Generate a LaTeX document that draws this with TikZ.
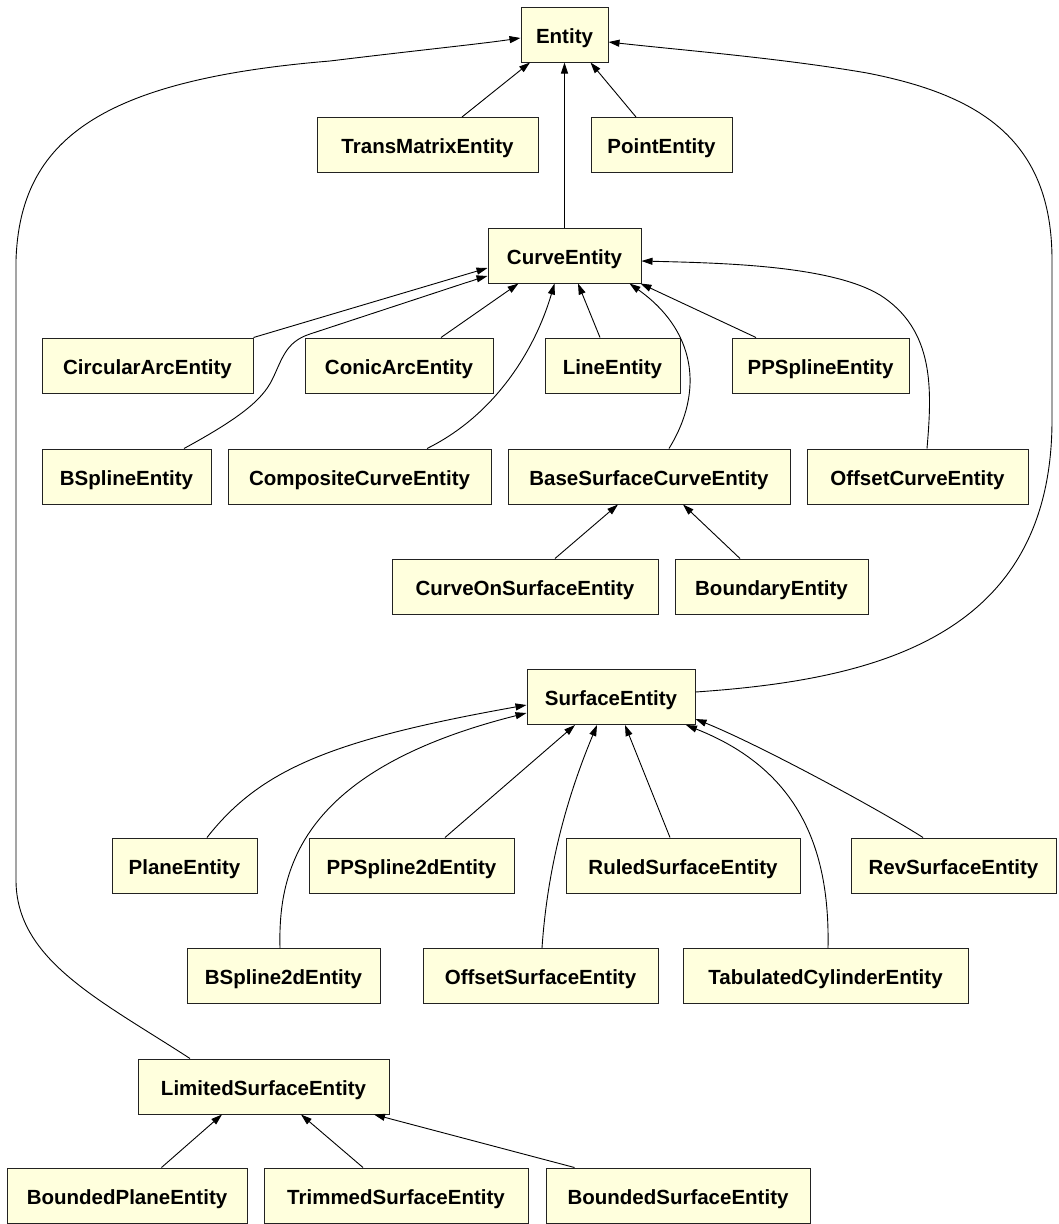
\documentclass[tikz,border=0pt]{standalone}
\usepackage{fontspec}
\setmainfont{Liberation Sans}
\usepackage{tikz}
\usetikzlibrary{arrows.meta, calc}
\usepackage{xcolor}
\definecolor{clsfill}{HTML}{FFFFDD}
\definecolor{clsline}{HTML}{222222}

\begin{document}
\begin{tikzpicture}[
      x=1pt, y=-1pt,
      cls/.style={draw=clsline, fill=clsfill, line width=1pt, minimum height=55pt,
                  inner sep=0pt, text height=17pt, text depth=0pt,
                  font=\fontsize{20.5}{24}\selectfont\bfseries},
      inh/.style={-{Triangle[length=11pt, width=7pt]}, line width=0.9pt},
    ]
    \useasboundingbox (0,0) rectangle (1058,1224);

    % class boxes: name/x/y/width
    \foreach \n/\x/\y/\w in {Entity/564.5/34.5/87,
        TransMatrixEntity/427.5/145/221, PointEntity/661.5/145/141,
        CurveEntity/564.5/255.5/153,
        CircularArcEntity/147.5/365.5/211, ConicArcEntity/399/365.5/188,
        LineEntity/612.5/365.5/135, PPSplineEntity/820.5/365.5/177,
        BSplineEntity/126.5/476.5/169, CompositeCurveEntity/359.5/476.5/263,
        BaseSurfaceCurveEntity/649/476.5/282, OffsetCurveEntity/917.5/476.5/221,
        CurveOnSurfaceEntity/525/586.5/266, BoundaryEntity/771.5/586.5/193,
        SurfaceEntity/611/697/168,
        PlaneEntity/184.5/865.5/145, PPSpline2dEntity/411.5/865.5/205,
        RuledSurfaceEntity/683/865.5/234, RevSurfaceEntity/953.5/865.5/205,
        BSpline2dEntity/283.5/976/193, OffsetSurfaceEntity/540.5/976/235,
        TabulatedCylinderEntity/825.5/976/285,
        LimitedSurfaceEntity/263.5/1086.5/251,
        BoundedPlaneEntity/127/1195.5/240, TrimmedSurfaceEntity/396/1195.5/264,
        BoundedSurfaceEntity/678/1195.5/264}
      \node[cls, minimum width=\w pt] (\n) at (\x,\y) {\n};

    % Entity children
    \draw[inh] ($(TransMatrixEntity.north)+(34.5,0)$) -- ($(Entity.south)+(-34.5,0)$);
    \draw[inh] ($(PointEntity.north)+(-25.5,0)$) -- ($(Entity.south)+(26,0)$);
    \draw[inh] (CurveEntity.north) -- (Entity.south);
    \draw[inh] ($(LimitedSurfaceEntity.north)+(-73.5,0)$) .. controls (100,1000) and (16,960) .. (16,880)
      -- (16,260) .. controls (20,140) and (100,80) .. (330,61)
      .. controls (420,50) and (480,44) .. ($(Entity.west)+(0,3.5)$);
    \draw[inh] ($(SurfaceEntity.east)+(0,-5)$) .. controls (870,680) and (1052,640) .. (1052,420)
      -- (1052,260) .. controls (1052,140) and (980,95) .. (867,73)
      .. controls (780,58) and (680,50) .. ($(Entity.east)+(0,7.5)$);

    % CurveEntity children
    \draw[inh] (CircularArcEntity.north east) -- ($(CurveEntity.west)+(0,12.5)$);
    \draw[inh] ($(BSplineEntity.north)+(57.5,0)$) .. controls (240,418) and (262,400) .. (272,380)
      .. controls (282,360) and (285,342) .. (310,334) -- (465,283)
      .. controls (475,280) and (480,278) .. ($(CurveEntity.west)+(0,20.5)$);
    \draw[inh] ($(ConicArcEntity.north)+(42,0)$) -- ($(CurveEntity.south)+(-46,0)$);
    \draw[inh] ($(CompositeCurveEntity.north)+(67.5,0)$) .. controls (495,415) and (535,350)
      .. ($(CurveEntity.south)+(-10,0)$);
    \draw[inh] ($(LineEntity.north)+(-12.5,0)$) -- ($(CurveEntity.south)+(13.5,0)$);
    \draw[inh] ($(BaseSurfaceCurveEntity.north)+(20,0)$) .. controls (705,390) and (695,330)
      .. ($(CurveEntity.south)+(65,0)$);
    \draw[inh] ($(PPSplineEntity.north)+(-64.5,0)$) -- ($(CurveEntity.south east)+(-1,0)$);
    \draw[inh] ($(OffsetCurveEntity.north)+(9.5,0)$) .. controls (932,390) and (935,330) .. (880,295)
      .. controls (830,265) and (720,263) .. ($(CurveEntity.east)+(0,5.5)$);

    % BaseSurfaceCurveEntity children
    \draw[inh] ($(CurveOnSurfaceEntity.north)+(30,0)$) -- ($(BaseSurfaceCurveEntity.south)+(-31,0)$);
    \draw[inh] ($(BoundaryEntity.north)+(-31.5,0)$) -- ($(BaseSurfaceCurveEntity.south)+(34,0)$);

    % SurfaceEntity children
    \draw[inh] ($(PlaneEntity.north)+(22.5,0)$) .. controls (260,770) and (330,740)
      .. ($(SurfaceEntity.west)+(0,8)$);
    \draw[inh] ($(BSpline2dEntity.north)+(-3.5,0)$) .. controls (278,870) and (300,770)
      .. ($(SurfaceEntity.west)+(0,16)$);
    \draw[inh] ($(PPSpline2dEntity.north)+(33.5,0)$) -- ($(SurfaceEntity.south)+(-36,0)$);
    \draw[inh] ($(OffsetSurfaceEntity.north)+(1.5,0)$) .. controls (548,860) and (570,790)
      .. ($(SurfaceEntity.south)+(-14,0)$);
    \draw[inh] ($(RuledSurfaceEntity.north)+(-13,0)$) -- ($(SurfaceEntity.south)+(14,0)$);
    \draw[inh] ($(TabulatedCylinderEntity.north)+(2.5,0)$) .. controls (830,850) and (800,770)
      .. ($(SurfaceEntity.south)+(75,0)$);
    \draw[inh] ($(RevSurfaceEntity.north)+(-30.5,0)$) .. controls (880,810) and (760,745)
      .. ($(SurfaceEntity.east)+(0,22)$);

    % LimitedSurfaceEntity children
    \draw[inh] ($(BoundedPlaneEntity.north)+(34.5,0)$) -- ($(LimitedSurfaceEntity.south)+(-41.5,0)$);
    \draw[inh] ($(TrimmedSurfaceEntity.north)+(-33,0)$) -- ($(LimitedSurfaceEntity.south)+(37.5,0)$);
    \draw[inh] ($(BoundedSurfaceEntity.north)+(-103.5,0)$) -- ($(LimitedSurfaceEntity.south)+(110.5,0)$);
\end{tikzpicture}
\end{document}
